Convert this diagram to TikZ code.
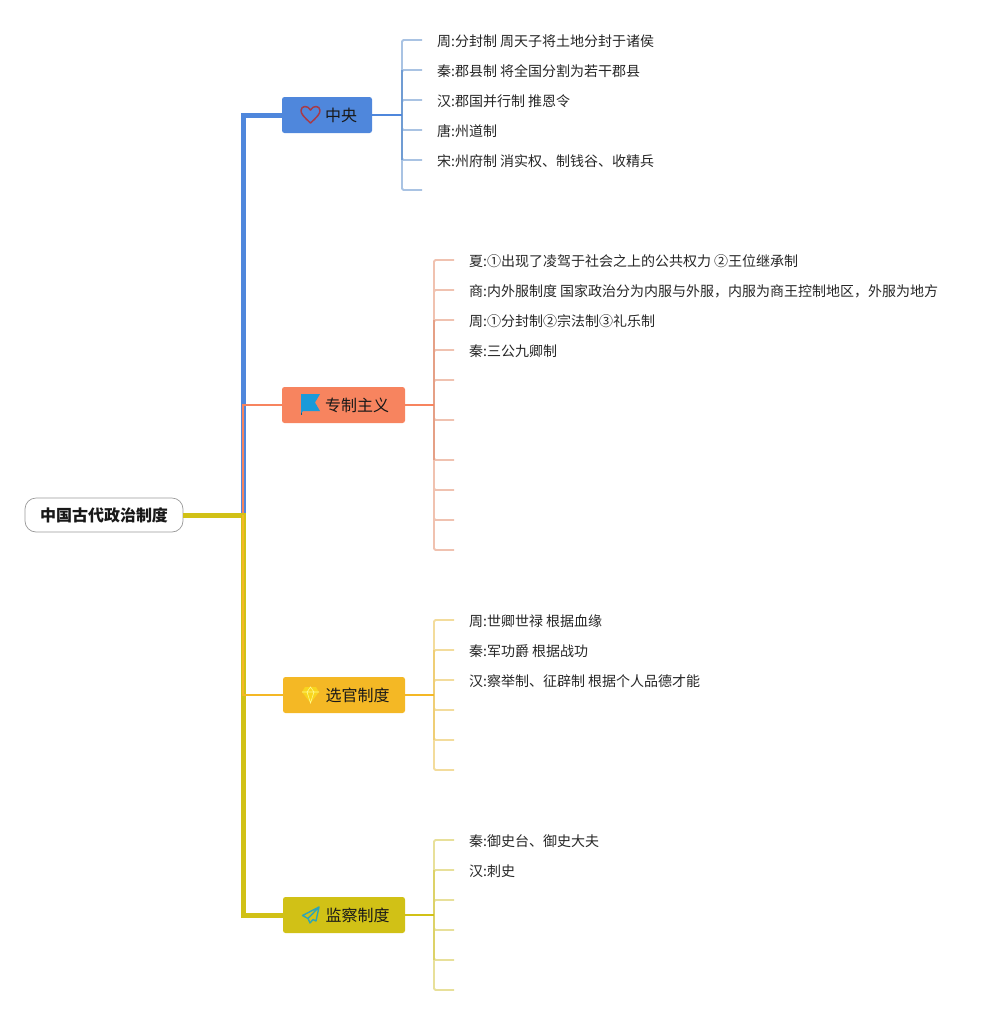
\documentclass[tikz,border=0pt]{standalone}
\usepackage{fontspec}
\setmainfont{Noto Sans CJK SC}
\usetikzlibrary{positioning}
\definecolor{cblue}{HTML}{4F87DC}
\definecolor{corange}{HTML}{F7845F}
\definecolor{camber}{HTML}{F4B825}
\definecolor{colive}{HTML}{D1C116}
\definecolor{cflag}{HTML}{1A9AD9}
\definecolor{cplane}{HTML}{2FA5B5}
\definecolor{cheart}{HTML}{A83A48}
\definecolor{cgem}{HTML}{F8D51E}
\definecolor{sblue}{HTML}{A9C3E3}
\definecolor{dblue}{HTML}{709CD3}
\definecolor{sorange}{HTML}{F0C2B0}
\definecolor{dorange}{HTML}{E5A086}
\definecolor{samber}{HTML}{F3DC9C}
\definecolor{damber}{HTML}{EFCE76}
\definecolor{solive}{HTML}{E8E09A}
\definecolor{dolive}{HTML}{DDD268}
\tikzset{root/.style={draw=black!40,line width=0.7pt,fill=white,rounded corners=11pt,minimum width=158pt,minimum height=34pt,inner sep=0pt,text=black!90,font=\fontsize{16}{18}\selectfont\bfseries}}
\tikzset{topic/.style={rounded corners=2.5pt,minimum height=36pt,inner sep=0pt,text=black!90,font=\fontsize{16}{18}\selectfont}}
\tikzset{leaf/.style={anchor=west,inner xsep=15pt,inner ysep=0pt,text height=12pt,text depth=0pt,text=black!85,font=\fontsize{14}{16}\selectfont}}
\tikzset{trunk/.style={line width=5pt,line join=miter}}
\tikzset{twig/.style={line width=1.8pt}}
\tikzset{spray/.style={line width=1.8pt,rounded corners=1.5pt}}
\begin{document}
\begin{tikzpicture}[x=1pt,y=-1pt]
    \useasboundingbox (0,0) rectangle (999,1015);

    \node[root] (gov) at (104,515) {中国古代政治制度};

    \node[topic,fill=cblue,minimum width=90pt] (zhong) at (327,115) {\hspace*{28pt}中央};
    \node[topic,fill=corange,minimum width=123pt] (zhuan) at (343.5,405) {\hspace*{27pt}专制主义};
    \node[topic,fill=camber,minimum width=122pt] (xuan) at (344,695) {\hspace*{27pt}选官制度};
    \node[topic,fill=colive,minimum width=122pt] (jian) at (344,915) {\hspace*{27pt}监察制度};

    \coordinate (fork) at (243,515);
    \coordinate (hubzhong) at (402,115);
    \coordinate (hubzhuan) at (434,405);
    \coordinate (hubxuan) at (434,695);
    \coordinate (hubjian) at (434,915);

    % central
    \node[leaf] (z1) at (422,40) {周:分封制 周天子将土地分封于诸侯};
    \node[leaf] (z2) at (422,70) {秦:郡县制 将全国分割为若干郡县};
    \node[leaf] (z3) at (422,100) {汉:郡国并行制 推恩令};
    \node[leaf] (z4) at (422,130) {唐:州道制};
    \node[leaf] (z5) at (422,160) {宋:州府制 消实权、制钱谷、收精兵};
    \coordinate (z6) at (422,190);

    % autocracy
    \node[leaf] (a1) at (454,260) {夏:①出现了凌驾于社会之上的公共权力 ②王位继承制};
    \node[leaf] (a2) at (454,290) {商:内外服制度 国家政治分为内服与外服，内服为商王控制地区，外服为地方};
    \node[leaf] (a3) at (454,320) {周:①分封制②宗法制③礼乐制};
    \node[leaf] (a4) at (454,350) {秦:三公九卿制};
    \coordinate (a5) at (454,380);
    \coordinate (a6) at (454,420);
    \coordinate (a7) at (454,460);
    \coordinate (a8) at (454,490);
    \coordinate (a9) at (454,520);
    \coordinate (a10) at (454,550);

    % officials
    \node[leaf] (x1) at (454,620) {周:世卿世禄 根据血缘};
    \node[leaf] (x2) at (454,650) {秦:军功爵 根据战功};
    \node[leaf] (x3) at (454,680) {汉:察举制、征辟制 根据个人品德才能};
    \coordinate (x4) at (454,710);
    \coordinate (x5) at (454,740);
    \coordinate (x6) at (454,770);

    % censors
    \node[leaf] (j1) at (454,840) {秦:御史台、御史大夫};
    \node[leaf] (j2) at (454,870) {汉:刺史};
    \coordinate (j3) at (454,900);
    \coordinate (j4) at (454,930);
    \coordinate (j5) at (454,960);
    \coordinate (j6) at (454,990);

    \draw[trunk,cblue] (fork) |- (zhong.west);
    \draw[twig,corange] (fork) |- (zhuan.west);
    \draw[trunk,colive] (gov.east) -- (fork) |- (jian.west);
    \draw[twig,camber] (fork) |- (xuan.west);

    \draw[spray,sblue] (hubzhong) |- (z1.west);
    \draw[spray,sblue] (hubzhong) |- (z2.west);
    \draw[spray,sblue] (hubzhong) |- (z3.west);
    \draw[spray,sblue] (hubzhong) |- (z4.west);
    \draw[spray,sblue] (hubzhong) |- (z5.west);
    \draw[spray,sblue] (hubzhong) |- (z6);
    \draw[twig,dblue] (hubzhong |- z2.west) -- (hubzhong |- z5.west);

    \draw[spray,sorange] (hubzhuan) |- (a1.west);
    \draw[spray,sorange] (hubzhuan) |- (a2.west);
    \draw[spray,sorange] (hubzhuan) |- (a3.west);
    \draw[spray,sorange] (hubzhuan) |- (a4.west);
    \draw[spray,sorange] (hubzhuan) |- (a5);
    \draw[spray,sorange] (hubzhuan) |- (a6);
    \draw[spray,sorange] (hubzhuan) |- (a7);
    \draw[spray,sorange] (hubzhuan) |- (a8);
    \draw[spray,sorange] (hubzhuan) |- (a9);
    \draw[spray,sorange] (hubzhuan) |- (a10);
    \draw[twig,dorange] (hubzhuan |- a3.west) -- (hubzhuan |- a7);

    \draw[spray,samber] (hubxuan) |- (x1.west);
    \draw[spray,samber] (hubxuan) |- (x2.west);
    \draw[spray,samber] (hubxuan) |- (x3.west);
    \draw[spray,samber] (hubxuan) |- (x4);
    \draw[spray,samber] (hubxuan) |- (x5);
    \draw[spray,samber] (hubxuan) |- (x6);
    \draw[twig,damber] (hubxuan |- x2.west) -- (hubxuan |- x5);

    \draw[spray,solive] (hubjian) |- (j1.west);
    \draw[spray,solive] (hubjian) |- (j2.west);
    \draw[spray,solive] (hubjian) |- (j3);
    \draw[spray,solive] (hubjian) |- (j4);
    \draw[spray,solive] (hubjian) |- (j5);
    \draw[spray,solive] (hubjian) |- (j6);
    \draw[twig,dolive] (hubjian |- j2.west) -- (hubjian |- j5);

    \draw[twig,cblue] (zhong.east) -- (hubzhong);
    \draw[twig,corange] (zhuan.east) -- (hubzhuan);
    \draw[twig,camber] (xuan.east) -- (hubxuan);
    \draw[twig,colive] (jian.east) -- (hubjian);

    % icons
    \draw[line width=1.5pt,draw=cheart,line join=round] (310.5,123) .. controls (304,117) and (301,114) .. (301,110.5)
        .. controls (301,105.5) and (308,105) .. (310.5,110) .. controls (313,105) and (320,105.5) .. (320,110.5)
        .. controls (320,114) and (317,117) .. (310.5,123) -- cycle;
    \draw[line width=1pt,draw=black!40!cflag] (301.5,394) -- (301.5,415);
    \fill[fill=cflag] (301,394) -- (320,394) -- (315,402.5) -- (320,411) -- (303,411) -- (301,413) -- cycle;
    \fill[cgem] (305,687) -- (316,687) -- (319,692) -- (310.5,703) -- (302,692) -- cycle;
    \draw[line width=0.6pt,draw=yellow!45] (302,692) -- (319,692) (307,692) -- (310.5,703) -- (314,692) (307,692) -- (310.5,687) -- (314,692);
    \draw[line width=1.4pt,draw=cplane,line join=round] (319,907) -- (302.5,915.5) -- (308,918.5) -- (310,923) -- (313,919.5) -- (316,921) -- cycle (319,907) -- (308,918.5);
\end{tikzpicture}
\end{document}
